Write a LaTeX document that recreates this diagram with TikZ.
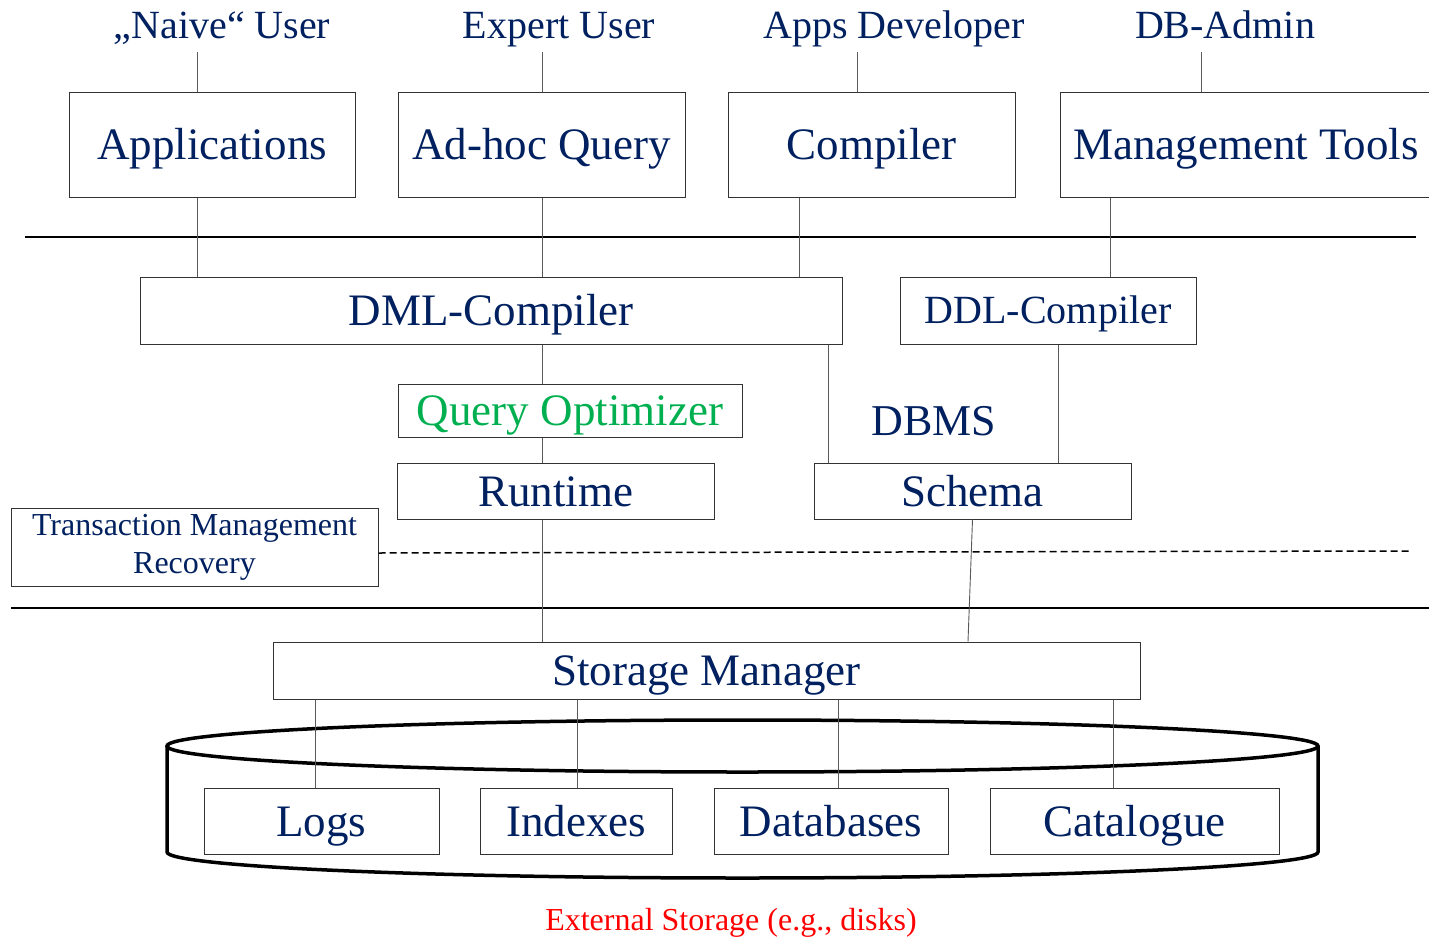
\documentclass[tikz,border=0pt]{standalone}
\usepackage{fontspec}
\setmainfont{Liberation Serif}
\usepackage{xcolor}
\definecolor{navy}{HTML}{002060}
\definecolor{optgreen}{HTML}{00B050}

\tikzset{
  box/.style={draw=black!80, line width=1pt, inner sep=0pt, text=navy,
    font=\fontsize{45}{54}\selectfont, text height=30pt, text depth=0pt},
  user/.style={inner sep=0pt, text=navy, font=\fontsize{40}{48}\selectfont,
    text height=26pt, text depth=14pt, anchor=base},
  link/.style={draw=black!65, line width=0.9pt},
  sep/.style={draw=black, line width=1.6pt},
  disk/.style={draw=black, line width=3.5pt},
}

\begin{document}
\begin{tikzpicture}[x=1pt,y=-1pt]
    \useasboundingbox (0,0) rectangle (1429,942);
    \clip (0,0) rectangle (1429,942);

    % who uses the system
    \node[user] (naive) at (222,38) {„Naive“ User};
    \node[user] (expert) at (559,38) {Expert User};
    \node[user] (dev) at (894,38) {Apps Developer};
    \node[user] (admin) at (1225,38) {DB-Admin};

    \node[box, minimum width=286, minimum height=105] (apps) at (212,144.5) {Applications};
    \node[box, minimum width=287, minimum height=105] (adhoc) at (541.5,144.5) {Ad-hoc Query};
    \node[box, minimum width=287, minimum height=105] (compiler) at (871.5,144.5) {Compiler};
    \node[box, minimum width=372, minimum height=105] (mgmt) at (1246,144.5) {Management Tools};

    \coordinate (c1) at (197,0);
    \coordinate (c2) at (542,0);
    \coordinate (c3) at (857,0);
    \coordinate (c4) at (1201,0);
    \coordinate (c5) at (799,0);
    \coordinate (c6) at (1110,0);
    \coordinate (c7) at (828,0);
    \coordinate (c8) at (1058,0);
    \coordinate (c9) at (968,0);

    \draw[link] (naive.south -| c1) -- (apps.north -| c1);
    \draw[link] (expert.south -| c2) -- (adhoc.north -| c2);
    \draw[link] (dev.south -| c3) -- (compiler.north -| c3);
    \draw[link] (admin.south -| c4) -- (mgmt.north -| c4);

    \draw[sep] (25,237) -- (1416,237);

    % DBMS
    \node[box, minimum width=702, minimum height=67] (dml) at (491,310.5) {DML-Compiler};
    \node[box, font=\fontsize{40}{48}\selectfont, text height=26.5pt, minimum width=296, minimum height=67]
      (ddl) at (1048,310.5) {DDL-Compiler};
    \node[box, text=optgreen, minimum width=344, minimum height=53] (qopt) at (570,410.5) {Query Optimizer};
    \node[box, minimum width=317, minimum height=56] (runtime) at (555.5,491) {Runtime};
    \node[box, minimum width=317, minimum height=56] (schema) at (972.5,491) {Schema};
    \node[user, font=\fontsize{44}{52}\selectfont] (dbms) at (934,435) {DBMS};

    \draw[link] (apps.south -| c1) -- (dml.north -| c1);
    \draw[link] (adhoc.south -| c2) -- (dml.north -| c2);
    \draw[link] (compiler.south -| c5) -- (dml.north -| c5);
    \draw[link] (mgmt.south -| c6) -- (ddl.north -| c6);
    \draw[link] (dml.south -| c2) -- (qopt.north -| c2);
    \draw[link] (qopt.south -| c2) -- (runtime.north -| c2);
    \draw[link] (dml.south -| c7) -- (schema.north -| c7);
    \draw[link] (ddl.south -| c8) -- (schema.north -| c8);

    \node[box, font=\fontsize{32}{38}\selectfont, align=center, text height=, text depth=,
      minimum width=367, minimum height=78] (tm) at (194.5,547) {Transaction Management\\Recovery};
    \draw[dash pattern=on 7pt off 4pt, line width=1.5pt] ([yshift=-6pt]tm.east) -- (1412,551);

    \draw[sep] (11,608) -- (1429,608);

    % storage
    \node[box, minimum width=867, minimum height=57] (storage) at (706.5,670.5) {Storage Manager};
    \draw[link] (runtime.south -| c2) -- (storage.north -| c2);
    \draw[link] (schema.south) -- (storage.north -| c9);

    \draw[disk] (742.5,746) ellipse [x radius=575.5pt, y radius=26pt];
    \draw[disk] (167,746) -- (167,852)
      arc[start angle=180, end angle=360, x radius=575.5pt, y radius=26pt] -- (1318,746);

    \node[box, minimum width=235, minimum height=66] (logs) at (321.5,821) {Logs};
    \node[box, minimum width=192, minimum height=66] (indexes) at (576,821) {Indexes};
    \node[box, minimum width=234, minimum height=66] (databases) at (831,821) {Databases};
    \node[box, minimum width=289, minimum height=66] (catalogue) at (1134.5,821) {Catalogue};

    \coordinate (d1) at (315,0);
    \coordinate (d2) at (577,0);
    \coordinate (d3) at (838,0);
    \coordinate (d4) at (1113,0);
    \draw[link] (storage.south -| d1) -- (logs.north -| d1);
    \draw[link] (storage.south -| d2) -- (indexes.north -| d2);
    \draw[link] (storage.south -| d3) -- (databases.north -| d3);
    \draw[link] (storage.south -| d4) -- (catalogue.north -| d4);

    \node[font=\fontsize{32}{38}\selectfont, text=red] (ext) at (731,923) {External Storage (e.g., disks)};
\end{tikzpicture}
\end{document}
